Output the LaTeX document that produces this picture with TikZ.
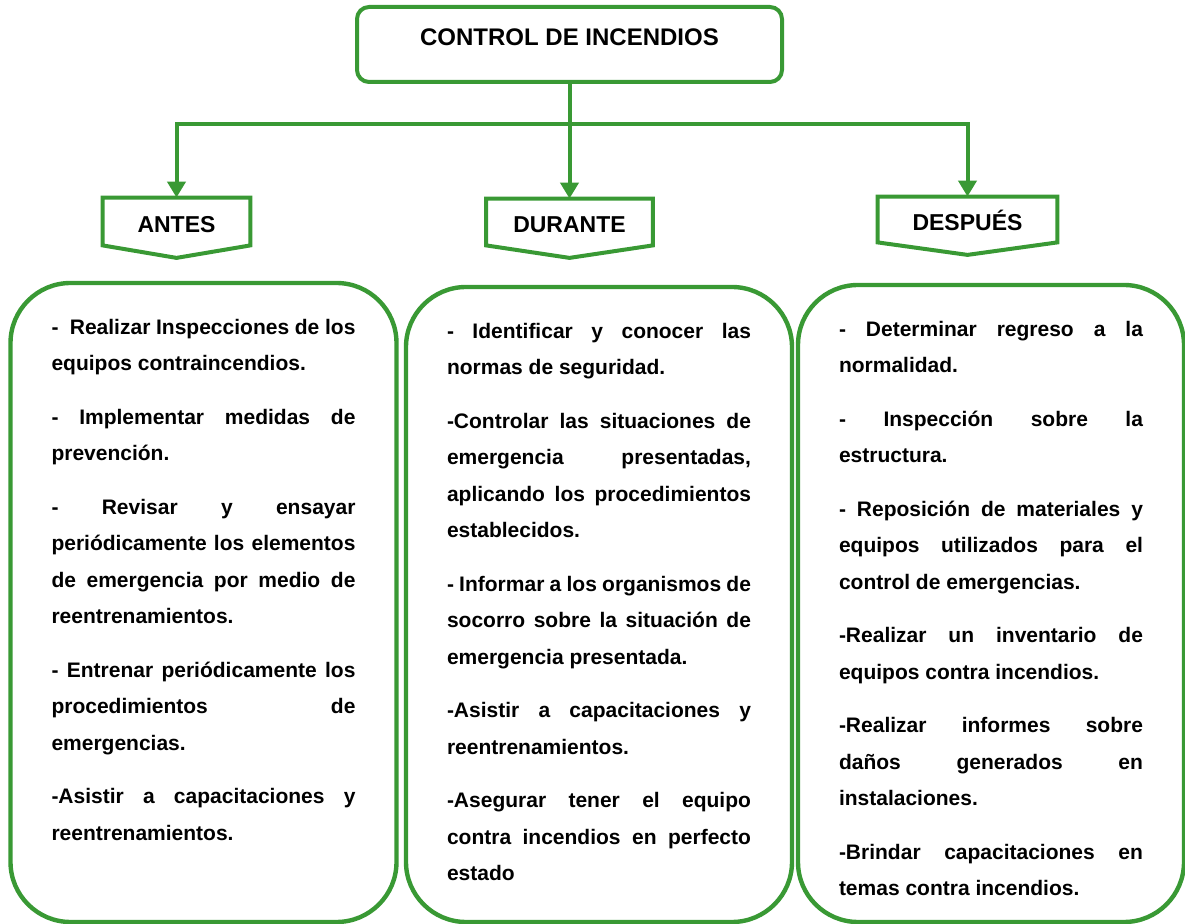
\documentclass[tikz,border=0pt]{standalone}
\usepackage{fontspec}
\setmainfont{Liberation Sans}
\usetikzlibrary{arrows.meta}
\definecolor{verde}{RGB}{57,153,52}
\newcommand\columna[2]{\parbox[c][#1][t]{152pt}{\fontsize{10.5pt}{18.25pt}\selectfont\bfseries
  \setlength\parskip{8.5pt}\setlength\parindent{0pt}#2}}
\newcommand\jl[1]{\makebox[\linewidth][s]{#1}\newline}
\tikzset{titulo/.style={draw=verde,line width=2pt,rounded corners=6pt,
           minimum width=212.5pt,minimum height=37.5pt,
           font=\fontsize{12pt}{14pt}\selectfont\bfseries,text height=9.1pt,text depth=8pt},
         bandera/.style={font=\fontsize{11.5pt}{14pt}\selectfont\bfseries,
           inner sep=0pt,text height=10.7pt,text depth=0pt},
         marco/.style={draw=verde,line width=2pt},
         caja/.style={draw=verde,line width=2.2pt,rounded corners=30pt,
           inner xsep=20.5pt,inner ysep=18pt},
         linea/.style={draw=verde,line width=2pt},
         flecha/.style={linea,-{Triangle[width=9pt,length=8pt]}}}
\begin{document}
\begin{tikzpicture}[x=0.5pt,y=-0.5pt]
      \useasboundingbox (0,0) rectangle (1185,924);
      \node[titulo] (control) at (569.5,44.5) {CONTROL DE INCENDIOS};
      \node[bandera,minimum width=73.5pt,minimum height=23.5pt] (antes) at (176.5,221.5) {ANTES};
      \node[bandera,minimum width=83pt,minimum height=23pt] (durante) at (569.5,222) {DURANTE};
      \node[bandera,minimum width=89.5pt,minimum height=22.5pt] (despues) at (967.5,219.5) {DESPUÉS};
      \foreach \b in {antes,durante,despues}
          \draw[marco] (\b.north west) -- (\b.north east) -- (\b.south east)
              -- ([yshift=-6.25pt]\b.south) -- (\b.south west) -- cycle;
      \draw[linea] (control.south) -- ++(0,40) coordinate (cruce);
      \draw[flecha] (cruce) -| (antes.north);
      \draw[flecha] (cruce) -- (durante.north);
      \draw[flecha] (cruce) -| (despues.north);
      \node[caja] (antesTxt) at (203.5,602.5) {\columna{283.5pt}{%
          \jl{-\ \ Realizar Inspecciones de los}equipos contraincendios.\par
          \jl{- Implementar medidas de}prevención.\par
          \jl{- Revisar y ensayar}\jl{periódicamente los elementos}%
          \jl{de emergencia por medio de}reentrenamientos.\par
          \jl{- Entrenar periódicamente los}\jl{procedimientos de}emergencias.\par
          \jl{-Asistir a capacitaciones y}reentrenamientos.}};
      \node[caja] (duranteTxt) at (599,604.5) {\columna{281.5pt}{%
          \jl{- Identificar y conocer las}normas de seguridad.\par
          \jl{-Controlar las situaciones de}\jl{emergencia presentadas,}%
          \jl{aplicando los procedimientos}establecidos.\par
          \jl{- Informar a los organismos de}\jl{socorro sobre la situación de}%
          emergencia presentada.\par
          \jl{-Asistir a capacitaciones y}reentrenamientos.\par
          \jl{-Asegurar tener el equipo}\jl{contra incendios en perfecto}estado}};
      \node[caja] (despuesTxt) at (991,603.5) {\columna{282.5pt}{%
          \jl{- Determinar regreso a la}normalidad.\par
          \jl{- Inspección sobre la}estructura.\par
          \jl{- Reposición de materiales y}\jl{equipos utilizados para el}%
          control de emergencias.\par
          \jl{-Realizar un inventario de}equipos contra incendios.\par
          \jl{-Realizar informes sobre}\jl{daños generados en}instalaciones.\par
          \jl{-Brindar capacitaciones en}temas contra incendios.}};
    \end{tikzpicture}
\end{document}
